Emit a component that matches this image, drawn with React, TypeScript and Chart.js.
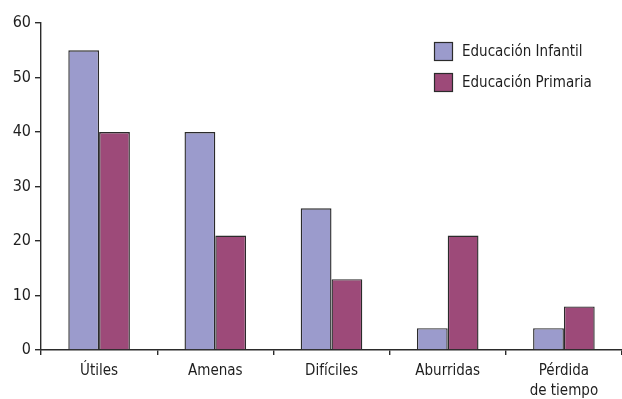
import React, { useEffect, useRef } from "react";
import { Chart, registerables } from "chart.js";

Chart.register(...registerables);

const categories: (string | string[])[] = ["Útiles", "Amenas", "Difíciles", "Aburridas", ["Pérdida", "de tiempo"]];
const infantil = [55, 40, 26, 4, 4];
const primaria = [40, 21, 13, 21, 8];
const seriesNames = ["Educación Infantil", "Educación Primaria"];
const seriesColors = ["#9b9bcc", "#9d4a79"];
const yTicks = [0, 10, 20, 30, 40, 50, 60];

const FONT = "'Liberation Sans Narrow', 'DejaVu Sans Condensed', 'Liberation Sans', sans-serif";
const INK = "#2b2b2b";

// Legend drawn as two stacked rows in the upper-right of the plot
const boxLegend = {
  id: "boxLegend",
  afterDraw(chart: Chart) {
    const ctx = chart.ctx;
    ctx.save();
    const x0 = 434;
    const y0 = 42;
    const size = 19;
    const gap = 31;
    seriesNames.forEach((name, i) => {
      const y = y0 + i * gap;
      ctx.fillStyle = seriesColors[i];
      ctx.fillRect(x0, y, size, size);
      ctx.strokeStyle = INK;
      ctx.lineWidth = 1.2;
      ctx.strokeRect(x0 + 0.5, y + 0.5, size - 1, size - 1);
      ctx.fillStyle = "#1e1e1e";
      ctx.font = `15px ${FONT}`;
      ctx.textBaseline = "middle";
      ctx.textAlign = "left";
      ctx.fillText(name, x0 + size + 9, y + size / 2 + 1);
    });
    ctx.restore();
  },
};

export default function App() {
  const ref = useRef<HTMLCanvasElement | null>(null);

  useEffect(() => {
    if (!ref.current) return;
    const chart = new Chart(ref.current, {
      type: "bar",
      data: {
        labels: categories,
        datasets: [
          {
            label: seriesNames[0],
            data: infantil,
            backgroundColor: seriesColors[0],
            borderColor: INK,
            borderWidth: 1.4,
            categoryPercentage: 0.53,
            barPercentage: 1,
          },
          {
            label: seriesNames[1],
            data: primaria,
            backgroundColor: seriesColors[1],
            borderColor: INK,
            borderWidth: 1.4,
            categoryPercentage: 0.53,
            barPercentage: 1,
          },
        ],
      },
      options: {
        animation: false,
        responsive: false,
        layout: { padding: { top: 23, right: 0, left: 0, bottom: 0 } },
        plugins: {
          legend: { display: false },
          tooltip: { enabled: false },
        },
        scales: {
          x: {
            grid: {
              offset: true,
              drawOnChartArea: false,
              drawTicks: true,
              tickLength: 5,
              color: INK,
              lineWidth: 1.4,
            },
            border: { display: true, color: INK, width: 1.4 },
            ticks: {
              color: "#1e1e1e",
              font: { family: FONT, size: 15, lineHeight: 1.35 },
              padding: 6,
              maxRotation: 0,
              autoSkip: false,
            },
            afterFit(scale: any) {
              scale.height = 49;
            },
          },
          y: {
            min: 0,
            max: 60,
            afterBuildTicks(scale: any) {
              scale.ticks = yTicks.map((v) => ({ value: v }));
            },
            grid: {
              drawOnChartArea: false,
              drawTicks: true,
              tickLength: 6,
              color: INK,
              lineWidth: 1.4,
            },
            border: { display: true, color: INK, width: 1.4 },
            ticks: {
              color: "#1e1e1e",
              font: { family: FONT, size: 16 },
              padding: 4,
            },
            afterFit(scale: any) {
              scale.width = 41;
            },
          },
        },
      },
      plugins: [boxLegend],
    });
    return () => chart.destroy();
  }, []);

  return (
    <div style={{ position: "fixed", left: 0, top: 0, width: 622, height: 399, background: "#fff" }}>
      <canvas ref={ref} width={622} height={399} />
    </div>
  );
}
